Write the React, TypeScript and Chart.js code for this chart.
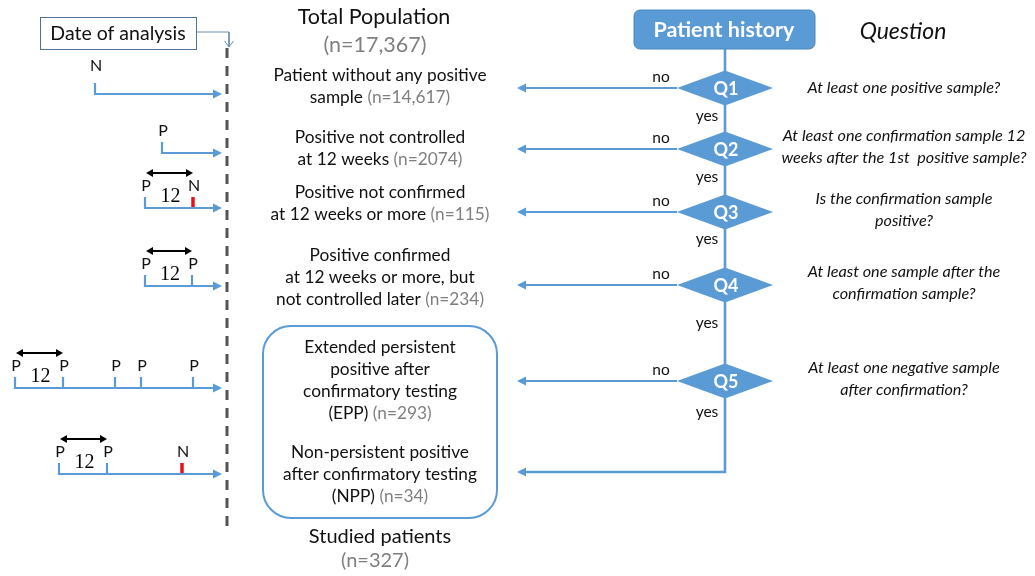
import React, { useEffect, useRef } from 'react';
import { Chart, registerables } from 'chart.js';

Chart.register(...registerables);

// ---------- data ----------
const totalPopulation = 17367;
const studiedPatients = 327;

const questionLabels = ['Q1', 'Q2', 'Q3', 'Q4', 'Q5'];
const questionY = [88, 149, 212, 285, 381];
const yesLabelY = [116, 177, 239, 323, 412];
const questionTexts = [
  ['At least one positive sample?'],
  ['At least one confirmation sample 12', 'weeks after the 1st  positive sample?'],
  ['Is the confirmation sample', 'positive?'],
  ['At least one sample after the', 'confirmation sample?'],
  ['At least one negative sample', 'after confirmation?'],
];

const outcomeLabels = [
  ['Patient without any positive', 'sample'],
  ['Positive not controlled', 'at 12 weeks'],
  ['Positive not confirmed', 'at 12 weeks or more'],
  ['Positive confirmed', 'at 12 weeks or more, but', 'not controlled later'],
  ['Extended persistent', 'positive after', 'confirmatory testing', '(EPP)'],
  ['Non-persistent positive', 'after confirmatory testing', '(NPP)'],
];
const outcomeCounts = [14617, 2074, 115, 234, 293, 34];
const outcomeFirstLineY = [75, 137, 192, 255, 347, 452];
const outcomeArrowY = [88, 149, 212, 285, 381, 472];

// patient timelines: sample positions and results
const timelineY = [94, 153, 208, 286, 388, 474];
const sampleX = [[95], [162], [145, 193], [145, 192], [15, 63, 115, 141, 193], [59, 107, 182]];
const sampleResults = [['N'], ['P'], ['P', 'N'], ['P', 'P'], ['P', 'P', 'P', 'P', 'P'], ['P', 'P', 'N']];
const intervalWeeks = [null, null, 12, 12, 12, 12];

// ---------- styling ----------
const BLUE = '#5b9bd5';
const GREY_TEXT = '#7f7f7f';
const INK = '#111111';
const SANS = 'Lato, "Open Sans", sans-serif';
const SERIF = '"Liberation Serif", "DejaVu Serif", serif';
const TRUNK_X = 725;
const ARROW_TIP_X = 517;
const DATE_X = 227;
const TIMELINE_END = 222;

const fmt = (n: number) => (n >= 10000 ? n.toLocaleString('en-US') : String(n));

function buildDatasets() {
  const ds: any[] = [];
  const line = (pts: { x: number; y: number }[], color: string, width: number, extra: any = {}) =>
    ds.push({
      data: pts,
      showLine: true,
      borderColor: color,
      borderWidth: width,
      pointRadius: 0,
      fill: false,
      tension: 0,
      borderCapStyle: 'butt',
      borderJoinStyle: 'miter',
      ...extra,
    });

  // date of analysis dashed line
  line([{ x: DATE_X, y: 48 }, { x: DATE_X, y: 532 }], '#555555', 3, { borderDash: [10, 8] });
  // connector from "Date of analysis" box
  line([{ x: 196, y: 32 }, { x: 229, y: 32 }, { x: 229, y: 46 }], '#6b8fb0', 1);

  // trunk
  line(
    [
      { x: TRUNK_X, y: 49 },
      { x: TRUNK_X, y: outcomeArrowY[5] },
      { x: ARROW_TIP_X + 8, y: outcomeArrowY[5] },
    ],
    BLUE,
    2.6
  );
  // "no" branches
  questionY.forEach((qy) => {
    line([{ x: TRUNK_X - 48, y: qy }, { x: ARROW_TIP_X + 8, y: qy }], BLUE, 2.2);
  });

  // timelines
  timelineY.forEach((ty, r) => {
    const xs = sampleX[r];
    line([{ x: xs[0], y: ty - 11 }, { x: xs[0], y: ty }, { x: TIMELINE_END - 7, y: ty }], BLUE, 2.2);
    for (let i = 1; i < xs.length; i++) {
      const neg = sampleResults[r][i] === 'N';
      line([{ x: xs[i], y: ty }, { x: xs[i], y: ty - 11 }], neg ? '#e8101a' : BLUE, neg ? 3.5 : 2.2);
    }
    if (intervalWeeks[r] !== null) {
      line([{ x: xs[0] + 5, y: ty - 35 }, { x: xs[1] - 5, y: ty - 35 }], '#000000', 2);
    }
  });
  return ds;
}

function tri(ctx: CanvasRenderingContext2D, tipX: number, tipY: number, dir: 'l' | 'r' | 'd', len: number, half: number, color: string) {
  ctx.beginPath();
  ctx.fillStyle = color;
  if (dir === 'l') {
    ctx.moveTo(tipX, tipY);
    ctx.lineTo(tipX + len, tipY - half);
    ctx.lineTo(tipX + len, tipY + half);
  } else if (dir === 'r') {
    ctx.moveTo(tipX, tipY);
    ctx.lineTo(tipX - len, tipY - half);
    ctx.lineTo(tipX - len, tipY + half);
  } else {
    ctx.moveTo(tipX, tipY);
    ctx.lineTo(tipX - half, tipY - len);
    ctx.lineTo(tipX + half, tipY - len);
  }
  ctx.closePath();
  ctx.fill();
}

function mixedCentered(ctx: CanvasRenderingContext2D, parts: [string, string][], cx: number, cy: number, font: string) {
  ctx.font = font;
  ctx.textBaseline = 'middle';
  ctx.textAlign = 'left';
  const w = parts.reduce((s, p) => s + ctx.measureText(p[0]).width, 0);
  let x = cx - w / 2;
  parts.forEach(([t, c]) => {
    ctx.fillStyle = c;
    ctx.fillText(t, x, cy);
    x += ctx.measureText(t).width;
  });
}

const flowPlugin = {
  id: 'flowPlugin',
  beforeDraw(chart: any) {
    const { ctx, width, height } = chart;
    ctx.save();
    ctx.fillStyle = '#ffffff';
    ctx.fillRect(0, 0, width, height);
    ctx.restore();
  },
  afterDatasetsDraw(chart: any) {
    const ctx: CanvasRenderingContext2D = chart.ctx;
    const sx = chart.scales.x;
    const sy = chart.scales.y;
    const X = (v: number) => sx.getPixelForValue(v);
    const Y = (v: number) => sy.getPixelForValue(v);
    ctx.save();

    // Date of analysis box
    ctx.fillStyle = '#ffffff';
    ctx.fillRect(X(40), Y(17), X(196) - X(40), Y(49) - Y(17));
    ctx.strokeStyle = '#4f7394';
    ctx.lineWidth = 1;
    ctx.strokeRect(X(40) + 0.5, Y(17) + 0.5, X(196) - X(40), Y(49) - Y(17));
    mixedCentered(ctx, [['Date of analysis', INK]], X(118), Y(34), `19.5px ${SANS}`);
    // open arrow head on connector
    ctx.beginPath();
    ctx.strokeStyle = '#6b8fb0';
    ctx.lineWidth = 1;
    ctx.moveTo(X(224.5), Y(41));
    ctx.lineTo(X(229), Y(47));
    ctx.lineTo(X(233.5), Y(41));
    ctx.stroke();

    // Titles
    mixedCentered(ctx, [['Total Population', INK]], X(374), Y(17), `21.5px ${SANS}`);
    mixedCentered(ctx, [[`(n=${fmt(totalPopulation)})`, GREY_TEXT]], X(375), Y(45), `21.5px ${SANS}`);
    mixedCentered(ctx, [['Studied patients', INK]], X(380), Y(537), `20px ${SANS}`);
    mixedCentered(ctx, [[`(n=${fmt(studiedPatients)})`, GREY_TEXT]], X(375), Y(561), `20px ${SANS}`);

    // Studied patients rounded box
    ctx.beginPath();
    ctx.strokeStyle = BLUE;
    ctx.lineWidth = 2;
    (ctx as any).roundRect(X(263), Y(326), X(497) - X(263), Y(518) - Y(326), 28);
    ctx.stroke();

    // outcome labels
    outcomeLabels.forEach((lines, i) => {
      lines.forEach((t, j) => {
        const y = outcomeFirstLineY[i] + j * 22.3;
        const parts: [string, string][] =
          j === lines.length - 1 ? [[t + ' ', INK], [`(n=${fmt(outcomeCounts[i])})`, GREY_TEXT]] : [[t, INK]];
        mixedCentered(ctx, parts, X(380), Y(y), `17.3px ${SANS}`);
      });
    });

    // outcome arrowheads
    outcomeArrowY.forEach((ay) => tri(ctx, X(ARROW_TIP_X), Y(ay), 'l', 9, 4.5, BLUE));

    // Patient history box
    ctx.beginPath();
    ctx.fillStyle = BLUE;
    (ctx as any).roundRect(X(634), Y(10), X(815) - X(634), Y(49) - Y(10), 6);
    ctx.fill();
    ctx.strokeStyle = '#4a88c2';
    ctx.lineWidth = 1;
    ctx.stroke();
    mixedCentered(ctx, [['Patient history', '#ffffff']], X(724), Y(30), `bold 21.5px ${SANS}`);
    mixedCentered(ctx, [['Question', INK]], X(903), Y(32), `italic 23px ${SANS}`);

    // diamonds
    questionY.forEach((qy, i) => {
      ctx.beginPath();
      ctx.fillStyle = BLUE;
      ctx.moveTo(X(TRUNK_X - 48), Y(qy));
      ctx.lineTo(X(TRUNK_X), Y(qy - 17.5));
      ctx.lineTo(X(TRUNK_X + 48), Y(qy));
      ctx.lineTo(X(TRUNK_X), Y(qy + 17.5));
      ctx.closePath();
      ctx.fill();
      mixedCentered(ctx, [[questionLabels[i], '#ffffff']], X(TRUNK_X + 1), Y(qy + 1), `bold 18px ${SANS}`);
      mixedCentered(ctx, [['no', INK]], X(661), Y(qy - 11), `15.5px ${SANS}`);
      mixedCentered(ctx, [['yes', INK]], X(707), Y(yesLabelY[i]), `15.5px ${SANS}`);
      const qt = questionTexts[i];
      const start = qy - ((qt.length - 1) * 21.5) / 2 - (qt.length > 1 ? 2 : 0);
      qt.forEach((t, j) => {
        mixedCentered(ctx, [[t, INK]], X(904), Y(start + j * 21.5), `italic 16.2px ${SANS}`);
      });
    });

    // timelines: arrowheads, labels, interval arrows
    timelineY.forEach((ty, r) => {
      tri(ctx, X(TIMELINE_END), Y(ty), 'r', 9, 4.5, BLUE);
      sampleX[r].forEach((sxv, k) => {
        const off = r === 0 ? 28 : 22.5;
        mixedCentered(ctx, [[sampleResults[r][k], INK]], X(sxv + 1), Y(ty - off), `16px ${SANS}`);
      });
      if (intervalWeeks[r] !== null) {
        const x1 = sampleX[r][0] + 1;
        const x2 = sampleX[r][1];
        tri(ctx, X(x1), Y(ty - 35), 'l', 7, 4, '#000000');
        tri(ctx, X(x2), Y(ty - 35), 'r', 7, 4, '#000000');
        mixedCentered(ctx, [[String(intervalWeeks[r]), '#000000']], X((x1 + x2) / 2 + 1), Y(ty - 11), `20px ${SERIF}`);
      }
    });

    ctx.restore();
  },
};

export default function App() {
  const ref = useRef<HTMLCanvasElement | null>(null);
  useEffect(() => {
    if (!ref.current) return;
    const chart = new Chart(ref.current, {
      type: 'scatter',
      data: { datasets: buildDatasets() },
      options: {
        responsive: false,
        animation: false,
        events: [],
        layout: { padding: 0 },
        plugins: { legend: { display: false }, tooltip: { enabled: false } },
        scales: {
          x: { type: 'linear', min: 0, max: 1035, display: false },
          y: { type: 'linear', min: 0, max: 576, reverse: true, display: false },
        },
      },
      plugins: [flowPlugin],
    } as any);
    return () => chart.destroy();
  }, []);
  return (
    <div style={{ position: 'fixed', left: 0, top: 0, width: 1035, height: 576, background: '#fff' }}>
      <canvas ref={ref} width={1035} height={576} style={{ display: 'block' }} />
    </div>
  );
}
